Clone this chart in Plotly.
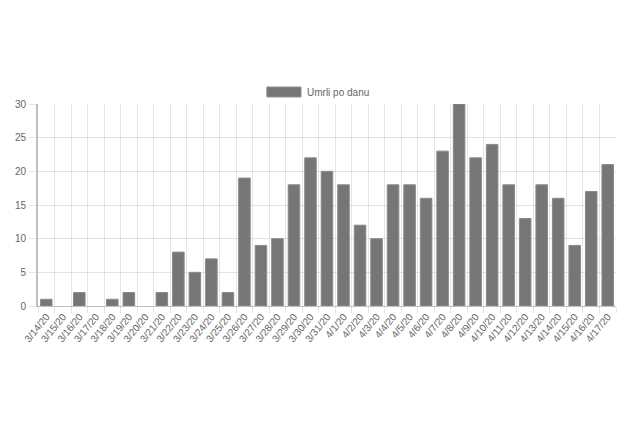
import plotly.graph_objects as go

dates = ["3/14/20","3/15/20","3/16/20","3/17/20","3/18/20","3/19/20","3/20/20","3/21/20",
         "3/22/20","3/23/20","3/24/20","3/25/20","3/26/20","3/27/20","3/28/20","3/29/20",
         "3/30/20","3/31/20","4/1/20","4/2/20","4/3/20","4/4/20","4/5/20","4/6/20",
         "4/7/20","4/8/20","4/9/20","4/10/20","4/11/20","4/12/20","4/13/20","4/14/20",
         "4/15/20","4/16/20","4/17/20"]
deaths = [1,0,2,0,1,2,0,2,8,5,7,2,19,9,10,18,22,20,18,12,10,18,18,16,23,30,22,24,18,13,18,16,9,17,21]
series_name = "Umrli po danu"
y_ticks = [0,5,10,15,20,25,30]

FILL = "#767676"
EDGE = "#8a8a8a"
FS = 10
font = dict(family="Liberation Sans, Arial, sans-serif", size=FS, color="#666")

edge_colors = [EDGE if v > 0 else "rgba(0,0,0,0)" for v in deaths]

fig = go.Figure()
fig.add_trace(go.Bar(
    x=dates, y=deaths, name=series_name,
    marker=dict(color=FILL, line=dict(color=edge_colors, width=1)),
    showlegend=False,
))

# legend drawn as Chart.js style: wide box + label
fig.add_shape(type="rect", xref="paper", yref="paper",
              x0=0.396, x1=0.455, y0=1.035, y1=1.084,
              fillcolor=FILL, line=dict(color=EDGE, width=1))
fig.add_annotation(text=series_name, xref="paper", yref="paper",
                   x=0.462, y=1.059, xanchor="left", yanchor="middle",
                   showarrow=False, font=font)

# the page body adds an 8px offset; margins compensate for it
fig.update_layout(
    width=632, height=421,
    margin=dict(l=30, r=24, t=96, b=123),
    paper_bgcolor="white", plot_bgcolor="white",
    font=font,
    bargap=0.3,
    showlegend=False,
    xaxis=dict(
        type="category", tickangle=-51, tickson="boundaries",
        showgrid=True, gridcolor="rgba(0,0,0,0.1)", gridwidth=1,
        ticks="outside", ticklen=6, tickcolor="rgba(0,0,0,0.1)",
        showline=True, linecolor="rgba(0,0,0,0.25)", linewidth=1,
        tickfont=font, fixedrange=True, automargin=False,
    ),
    yaxis=dict(
        range=[0, 30], tickvals=y_ticks,
        showgrid=True, gridcolor="rgba(0,0,0,0.1)", gridwidth=1,
        ticks="outside", ticklen=7, tickcolor="rgba(0,0,0,0.1)",
        showline=True, linecolor="rgba(0,0,0,0.25)", linewidth=2,
        zeroline=False, tickfont=font, ticklabelstandoff=1, automargin=False,
    ),
)

fig.write_html("out.html")
